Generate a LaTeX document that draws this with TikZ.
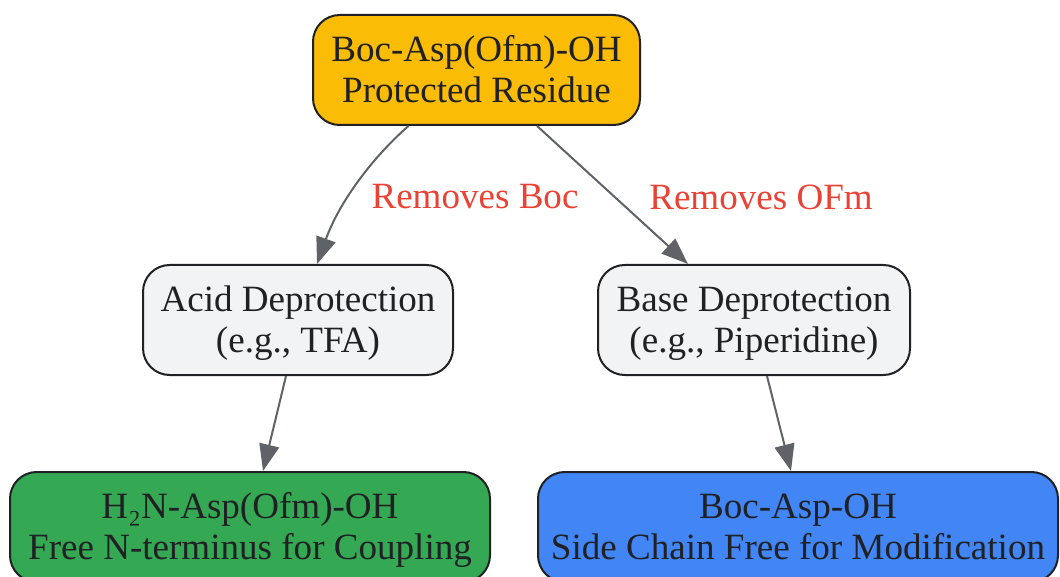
\documentclass[tikz,border=0pt]{standalone}
\usepackage{fontspec}
\setmainfont{Liberation Serif}
\usetikzlibrary{arrows.meta,calc}
\definecolor{orangefill}{HTML}{FBBC05}
\definecolor{grayfill}{HTML}{F1F3F4}
\definecolor{greenfill}{HTML}{34A853}
\definecolor{bluefill}{HTML}{4285F4}
\definecolor{edgecol}{HTML}{5F6368}
\definecolor{labelcol}{HTML}{EA4335}
\definecolor{textcol}{HTML}{202124}
\definecolor{bordercol}{HTML}{202124}
\newcommand{\topstrut}{\rule{0pt}{24pt}}
\newcommand{\botstrut}{\rule[-6pt]{0pt}{0pt}}
\tikzset{
  box/.style={draw=bordercol, line width=1.5pt, rounded corners=20pt, align=center,
    text=textcol, font=\fontsize{27.8}{31}\selectfont, inner sep=0pt,
    minimum height=110*0.75pt},
  edge/.style={draw=edgecol, line width=1.5pt, -{Triangle[length=20pt,width=15pt]}},
  elabel/.style={text=labelcol, font=\fontsize{27.8}{31}\selectfont, inner sep=0pt}
}
\begin{document}
\begin{tikzpicture}[x=0.75pt,y=-0.75pt]
\useasboundingbox (0,0) rectangle (1060,577);
\node[box, fill=orangefill, minimum width=327*0.75pt] (top) at (476.5,70) {\topstrut Boc-Asp(Ofm)-OH\\Protected Residue\botstrut};
\node[box, fill=grayfill, minimum width=310*0.75pt] (acid) at (298,320) {\topstrut Acid Deprotection\\(e.g., TFA)\botstrut};
\node[box, fill=grayfill, minimum width=312*0.75pt] (base) at (754,320) {\topstrut Base Deprotection\\(e.g., Piperidine)\botstrut};
\node[box, fill=greenfill, minimum width=480*0.75pt] (free) at (250,527) {\topstrut H₂N-Asp(Ofm)-OH\\Free N-terminus for Coupling\botstrut};
\node[box, fill=bluefill, minimum width=520*0.75pt] (side) at (798,527) {\topstrut Boc-Asp-OH\\Side Chain Free for Modification\botstrut};
\draw[edge] ([xshift=-51pt]top.south) .. controls (375,155) and (340,200) .. ([xshift=14.25pt]acid.north);
\draw[edge] ([xshift=45.4pt]top.south) -- ([xshift=-49.5pt]base.north);
\draw[edge] ([xshift=-9pt]acid.south) -- ([xshift=9.75pt]free.north);
\draw[edge] ([xshift=9.75pt]base.south) -- ([xshift=-5.25pt]side.north);
\node[elabel] (l1) at (475,197) {Removes Boc};
\node[elabel] (l2) at (761,197) {Removes OFm};
\end{tikzpicture}
\end{document}
